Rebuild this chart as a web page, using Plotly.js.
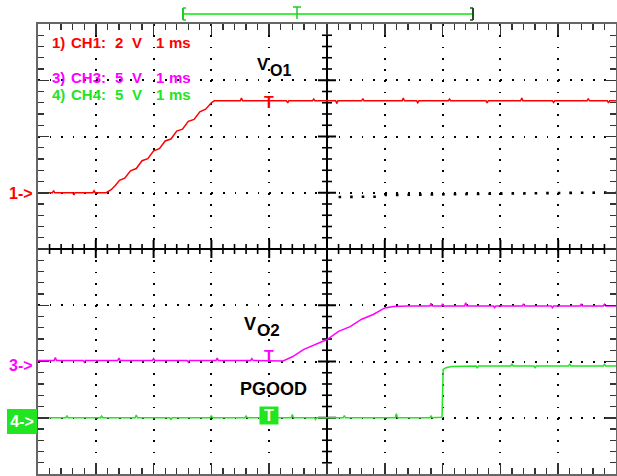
<!DOCTYPE html>
<html><head><meta charset="utf-8">
<script src="https://cdn.plot.ly/plotly-3.0.1.min.js"></script>
<style>html,body{margin:0;padding:0;background:#fff;}</style>
</head><body><div id="chart" style="width:617px;height:476px;"></div>
<script>
// ---- data (time in ms, 1 ms/div; voltages in V) ----
const ch1Time = [0, 0.25, 0.27, 0.29, 0.6, 0.62, 0.64, 0.95, 0.97, 0.99, 1.18, 1.26, 1.33, 1.41, 1.5, 1.6, 1.7, 1.8, 1.9, 2.0, 2.1, 2.2, 2.3, 2.4, 2.5, 2.6, 2.7, 2.8, 2.9, 3.0, 3.05, 3.5, 3.52, 3.54, 4.3, 4.32, 4.34, 4.75, 4.77, 4.79, 5.15, 5.17, 5.19, 5.6, 5.62, 5.64, 6.3, 6.32, 6.34, 6.55, 6.57, 6.59, 7.1, 7.12, 7.14, 7.75, 7.77, 7.79, 8.35, 8.37, 8.39, 8.9, 8.92, 8.94, 9.5, 9.52, 9.54, 9.85, 9.87, 9.89, 10];
const ch1Volts = [0, 0, 0.08, 0, 0, -0.08, 0, 0, 0.07, 0, 0, 0.10, 0.24, 0.44, 0.52, 0.78, 0.86, 1.14, 1.21, 1.49, 1.57, 1.84, 1.91, 2.19, 2.26, 2.54, 2.61, 2.88, 2.97, 3.20, 3.27, 3.27, 3.37, 3.27, 3.27, 3.19, 3.27, 3.27, 3.33, 3.27, 3.27, 3.17, 3.27, 3.27, 3.35, 3.27, 3.27, 3.37, 3.27, 3.27, 3.2, 3.27, 3.27, 3.33, 3.27, 3.27, 3.19, 3.27, 3.27, 3.37, 3.27, 3.27, 3.21, 3.27, 3.27, 3.35, 3.27, 3.27, 3.19, 3.27, 3.27];

const ch3Time = [0, 0.28, 0.3, 0.32, 0.78, 0.8, 0.82, 1.38, 1.4, 1.42, 1.98, 2.0, 2.02, 2.58, 2.6, 2.62, 3.08, 3.1, 3.12, 3.68, 3.7, 3.72, 4.24, 4.4, 4.6, 4.8, 5.0, 5.2, 5.4, 5.6, 5.8, 6.0, 6.15, 6.4, 6.78, 6.8, 6.82, 6.98, 7.0, 7.02, 7.38, 7.4, 7.42, 7.88, 7.9, 7.92, 8.38, 8.4, 8.42, 8.88, 8.9, 8.92, 9.38, 9.4, 9.42, 9.78, 9.8, 9.82, 10];
const ch3Volts = [0.1, 0.1, 0.35, 0.1, 0.1, -0.05, 0.1, 0.1, 0.3, 0.1, 0.1, 0.25, 0.1, 0.1, -0.05, 0.1, 0.1, 0.3, 0.1, 0.1, 0.25, 0.1, 0.05, 0.42, 1.08, 1.49, 1.95, 2.68, 3.10, 3.76, 4.18, 4.76, 4.88, 4.93, 4.93, 5.18, 4.93, 4.93, 5.13, 4.93, 4.93, 5.23, 4.93, 4.93, 4.78, 4.93, 4.93, 5.13, 4.93, 4.93, 4.78, 4.93, 4.93, 5.13, 4.93, 4.93, 5.08, 4.93, 4.93];

const ch4Time = [0, 0.48, 0.5, 0.52, 1.08, 1.1, 1.12, 1.68, 1.7, 1.72, 2.28, 2.3, 2.32, 2.98, 3.0, 3.02, 3.58, 3.6, 3.62, 4.38, 4.4, 4.42, 4.78, 4.8, 4.82, 5.28, 5.3, 5.32, 6.18, 6.2, 6.22, 6.78, 6.8, 6.82, 6.99, 7.01, 7.06, 7.15, 7.58, 7.6, 7.62, 8.18, 8.2, 8.22, 8.58, 8.6, 8.62, 9.18, 9.2, 9.22, 9.78, 9.8, 9.82, 10];
const ch4Volts = [0, 0, 0.2, 0, 0, 0.15, 0, 0, 0.25, 0, 0, -0.15, 0, 0, 0.2, 0, 0, 0.15, 0, 0, 0.3, 0, 0, -0.15, 0, 0, 0.2, 0, 0, 0.35, 0, 0, 0.15, 0, 0.05, 4.3, 4.45, 4.55, 4.6, 4.4, 4.6, 4.6, 4.8, 4.6, 4.6, 4.45, 4.6, 4.6, 4.8, 4.6, 4.6, 4.75, 4.6, 4.6];

// faint black dotted trace in the right half (in divisions)
const ch2Time = [5.2, 5.95, 6.0, 8.0, 9.0, 10];
const ch2Div = [4.925, 4.93, 4.96, 4.975, 4.995, 5.005];

const channelLabels = ["1) CH1: 2 V 1 ms", "3) CH3: 5 V 1 ms", "4) CH4: 5 V 1 ms"];
const voltsPerDiv = {ch1: 2, ch3: 5, ch4: 5};
const refDiv = {ch1: 5, ch3: 2, ch4: 1};
const triggerTime = 4.0;

// ---- drawing ----
const RED = '#ff0000', MAG = '#ff00ff', GRN = '#22e522';
const FONT = 'Liberation Sans, Arial, sans-serif';
const toDiv = (arr, ch) => arr.map(v => refDiv[ch] + v / voltsPerDiv[ch]);
const px = x => (x - 38) / 578;
const py = y => (474 - y) / 450;

const traces = [
  {x: ch2Time, y: ch2Div, mode: 'lines', line: {color: '#000', width: 2.6, dash: '2.6px,8.96px'}, hoverinfo: 'skip'},
  {x: ch1Time, y: toDiv(ch1Volts, 'ch1'), mode: 'lines', line: {color: RED, width: 1.5}},
  {x: ch3Time, y: toDiv(ch3Volts, 'ch3'), mode: 'lines', line: {color: MAG, width: 1.5}},
  {x: ch4Time, y: toDiv(ch4Volts, 'ch4'), mode: 'lines', line: {color: GRN, width: 1.5}}
];

const shapes = [];
// center cross
shapes.push({type: 'line', xref: 'x', yref: 'y', x0: 5, x1: 5, y0: 0, y1: 8, line: {color: '#000', width: 2}, layer: 'below'});
shapes.push({type: 'line', xref: 'x', yref: 'y', x0: 0, x1: 10, y0: 4, y1: 4, line: {color: '#000', width: 2}, layer: 'below'});
for (let k = 1; k < 50; k++) {
  const major = k % 5 === 0;
  const h = major ? 9 : 5;
  shapes.push({type: 'line', xref: 'x', yref: 'y', x0: k * 0.2, x1: k * 0.2, ysizemode: 'pixel', yanchor: 4, y0: -h, y1: h,
    line: {color: '#000', width: major ? 2 : 1.6}, layer: 'below'});
}
for (let k = 1; k < 40; k++) {
  const major = k % 5 === 0;
  const h = major ? 9 : 5;
  shapes.push({type: 'line', xref: 'x', yref: 'y', y0: k * 0.2, y1: k * 0.2, xsizemode: 'pixel', xanchor: 5, x0: -h, x1: h,
    line: {color: '#000', width: major ? 2 : 1.6}, layer: 'below'});
}
// top time-window bar
const barY = py(14);
shapes.push({type: 'line', xref: 'paper', yref: 'paper', x0: px(183), x1: px(473), y0: barY, y1: barY, line: {color: '#44ee44', width: 2.2}});
shapes.push({type: 'line', xref: 'paper', yref: 'paper', x0: px(183), x1: px(183), y0: py(8), y1: py(20), line: {color: '#22cc22', width: 2}});
shapes.push({type: 'line', xref: 'paper', yref: 'paper', x0: px(183), x1: px(186), y0: py(8), y1: py(8), line: {color: '#22cc22', width: 1.5}});
shapes.push({type: 'line', xref: 'paper', yref: 'paper', x0: px(183), x1: px(186), y0: py(20), y1: py(20), line: {color: '#22cc22', width: 1.5}});
shapes.push({type: 'line', xref: 'paper', yref: 'paper', x0: px(473), x1: px(473), y0: py(8), y1: py(20), line: {color: '#1f4f1f', width: 2}});
shapes.push({type: 'line', xref: 'paper', yref: 'paper', x0: px(470), x1: px(473), y0: py(8), y1: py(8), line: {color: '#1f4f1f', width: 1.5}});
shapes.push({type: 'line', xref: 'paper', yref: 'paper', x0: px(470), x1: px(473), y0: py(20), y1: py(20), line: {color: '#1f4f1f', width: 1.5}});
shapes.push({type: 'line', xref: 'paper', yref: 'paper', x0: px(297), x1: px(297), y0: py(7), y1: py(19), line: {color: '#22cc22', width: 1.5}});
shapes.push({type: 'line', xref: 'paper', yref: 'paper', x0: px(293), x1: px(301), y0: py(7), y1: py(7), line: {color: '#22cc22', width: 1.5}});

const ann = (text, x, y, opts) => Object.assign({text, x: px(x), y: py(y), xref: 'paper', yref: 'paper', showarrow: false,
  xanchor: 'left', yanchor: 'middle', borderpad: 0, borderwidth: 0, font: {family: FONT, size: 14, weight: 'bold', color: '#000'}}, opts || {});

const annotations = [];
// channel settings text, token by token (scope's wide character cells)
const tokenX = [52, 71, 115, 132, 156, 169];
const labelY = [42, 77, 94];
const labelColor = [RED, MAG, GRN];
channelLabels.forEach((lab, i) => {
  lab.split(' ').forEach((tok, j) => {
    annotations.push(ann(tok, tokenX[j], labelY[i], {font: {family: FONT, size: 15, weight: 'bold', color: labelColor[i]}}));
  });
});
annotations.push(
  ann('V', 257, 64, {font: {family: FONT, size: 17, weight: 'bold', color: '#000'}}),
  ann('O1', 270, 70.5, {font: {family: FONT, size: 16, weight: 'bold', color: '#000'}}),
  ann('V', 244, 323.5, {font: {family: FONT, size: 18, weight: 'bold', color: '#000'}}),
  ann('O2', 257, 330, {font: {family: FONT, size: 17, weight: 'bold', color: '#000'}}),
  ann('PGOOD', 240, 389, {font: {family: FONT, size: 18, weight: 'bold', color: '#000'}}),
  ann('1->', 9, 193, {font: {family: FONT, size: 16, weight: 'bold', color: RED}}),
  ann('3->', 9, 365, {font: {family: FONT, size: 16, weight: 'bold', color: MAG}}),
  ann('4->', 22, 421.5, {xanchor: 'center', bgcolor: GRN, width: 30, height: 25, font: {family: FONT, size: 16, weight: 'bold', color: '#fff'}}),
  {text: 'T', x: triggerTime, xref: 'x', y: py(102), yref: 'paper', showarrow: false, xanchor: 'center', yanchor: 'middle', borderpad: 0,
    font: {family: FONT, size: 16, weight: 'bold', color: RED}},
  {text: 'T', x: triggerTime, xref: 'x', y: py(356.5), yref: 'paper', showarrow: false, xanchor: 'center', yanchor: 'middle', borderpad: 0,
    font: {family: FONT, size: 16, weight: 'bold', color: MAG}},
  {text: 'T', x: triggerTime, xref: 'x', y: py(415.5), yref: 'paper', showarrow: false, xanchor: 'center', yanchor: 'middle', borderpad: 0,
    bgcolor: GRN, width: 18, height: 17, font: {family: FONT, size: 16, weight: 'bold', color: '#fff'}}
);

const axisBase = {
  tick0: 0, dtick: 1, ticks: 'inside', ticklen: 11, tickwidth: 1.5, tickcolor: '#333',
  minor: {dtick: 0.2, tick0: 0, ticks: 'inside', ticklen: 6, tickwidth: 1.3, tickcolor: '#333', showgrid: false},
  showline: true, linecolor: '#666', linewidth: 2, mirror: 'all', showticklabels: false,
  showgrid: true, gridcolor: '#000', gridwidth: 2, zeroline: false, fixedrange: true
};

const layout = {
  width: 617, height: 476,
  margin: {l: 38, r: 1, t: 24, b: 2, pad: 0},
  paper_bgcolor: '#fff', plot_bgcolor: '#fff', showlegend: false,
  xaxis: Object.assign({}, axisBase, {range: [0, 10], griddash: '1.8px,9.45px'}),
  yaxis: Object.assign({}, axisBase, {range: [0, 8], griddash: '1.8px,9.76px'}),
  shapes, annotations
};

Plotly.newPlot('chart', traces, layout, {staticPlot: true, displayModeBar: false});
</script>
</body></html>
